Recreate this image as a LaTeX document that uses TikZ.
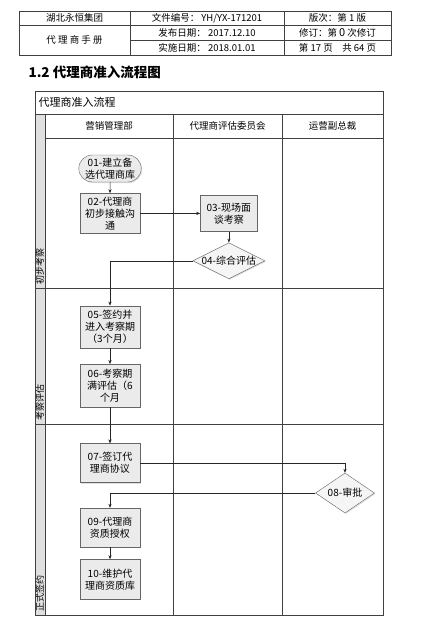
\documentclass[tikz,border=0pt]{standalone}
\usepackage{fontspec}
\setmainfont{Noto Sans CJK SC}
\usepackage{tikz}
\usetikzlibrary{arrows.meta, positioning, shapes.geometric, shapes.misc, shadows}

\begin{document}
\begin{tikzpicture}[x=1pt, y=-1pt, >={Stealth[length=4pt, width=3.2pt]},
        font=\fontsize{10}{12}\selectfont,
        rule/.style={draw=black!75, line width=0.6pt},
        stepbox/.style={draw=black!60, fill=black!8, align=center, minimum width=60pt, minimum height=40pt, inner sep=1pt,
                drop shadow={shadow xshift=1pt, shadow yshift=-1pt, fill=black!25}},
        startbox/.style={stepbox, rounded rectangle, minimum width=59pt, minimum height=27pt},
        checkbox/.style={diamond, draw=black!60, fill=black!4, inner sep=0pt,
                drop shadow={shadow xshift=1pt, shadow yshift=-1pt, fill=black!25}},
        flow/.style={->, draw=black!85, line width=0.5pt},
        cell/.style={font=\fontsize{9.5}{11}\selectfont},
        phase/.style={rotate=90, anchor=west, font=\fontsize{9}{10}\selectfont, inner sep=1pt}]
        \useasboundingbox (0,0) rectangle (443,630);
        \fill[white] (0,0) rectangle (443,630);
        \draw[rule] (19,11) rectangle (391,55);
        \draw[rule] (130,11) -- (130,55) (284,11) -- (284,55);
        \draw[rule] (19,25) -- (391,25) (130,40) -- (391,40);
        \node[cell] (company) at (74.5,18) {湖北永恒集团};
        \node[cell] (manual) at (74.5,40) {代\ 理\ 商\ 手\ 册};
        \node[cell] (docno) at (207,18) {文件编号：\ YH/YX-171201};
        \node[cell] (issued) at (207,32.5) {发布日期：\ 2017.12.10};
        \node[cell] (valid) at (207,47.5) {实施日期：\ 2018.01.01};
        \node[cell] (edition) at (337.5,18) {版次：第 1 版};
        \node[cell] (revision) at (337.5,32.5) {修订：第 {\fontsize{11}{11}\selectfont 0} 次修订};
        \node[cell] (pages) at (337.5,47.5) {第 17 页\quad 共 64 页};
        \node[anchor=west, font=\fontsize{13.5}{15}\selectfont\bfseries] (heading) at (25,72) {1.2 代理商准入流程图};
        \fill[black!12] (35,114) rectangle (45,615);
        \draw[rule] (35,91) rectangle (383,615);
        \draw[rule] (35,114) -- (383,114) (45,138) -- (383,138);
        \draw[rule] (35,288) -- (383,288) (35,424) -- (383,424);
        \draw[rule] (45,114) -- (45,615) (173,114) -- (173,615) (282,114) -- (282,615);
        \node[anchor=west, font=\fontsize{11}{12}\selectfont] (chart) at (35,102.5) {代理商准入流程};
        \node[font=\fontsize{9.5}{11}\selectfont] (sales) at (109,126) {营销管理部};
        \node[font=\fontsize{9.5}{11}\selectfont] (board) at (227.5,126) {代理商评估委员会};
        \node[font=\fontsize{9.5}{11}\selectfont] (vp) at (332.5,126) {运营副总裁};
        \node[phase] (early) at (40,286) {初步考察};
        \node[phase] (trial) at (40,422) {考察评估};
        \node[phase] (formal) at (40,613) {正式签约};
        \node[startbox] (build) at (110,168.5) {01-建立备\\选代理商库};
        \node[stepbox, below=11pt of build] (contact) {02-代理商\\初步接触沟\\通};
        \node[stepbox, minimum width=57pt, minimum height=36pt, right=60pt of contact] (visit) {03-现场面\\谈考察};
        \node[checkbox, minimum width=72pt, minimum height=36pt, below=11pt of visit,
                label={center:04-综合评估}] (assess) {};
        \node[stepbox, minimum height=42pt, below=72pt of contact] (sign) {05-签约并\\进入考察期\\（3个月）};
        \node[stepbox, minimum height=43pt, below=16pt of sign] (review) {06-考察期\\满评估（6\\个月};
        \node[stepbox, minimum height=39pt, below=36pt of review] (contract) {07-签订代\\理商协议};
        \node[checkbox, minimum width=59pt, minimum height=40pt, label={center:08-审批}] (approve) at (345,493) {};
        \node[stepbox, minimum height=39pt, below=25pt of contract] (grant) {09-代理商\\资质授权};
        \node[stepbox, below=12pt of grant] (maintain) {10-维护代\\理商资质库};
        \draw[flow] (build) -- (contact);
        \draw[flow] (contact) -- (visit);
        \draw[flow] (visit) -- (assess);
        \draw[flow] (assess.west) -| (sign.north);
        \draw[flow] (sign) -- (review);
        \draw[flow] (review) -- (contract);
        \draw[flow] (contract.east) -| (approve.north);
        \draw[flow] (approve.west) -| (grant.north);
        \draw[flow] (grant) -- (maintain);
    \end{tikzpicture}
\end{document}
